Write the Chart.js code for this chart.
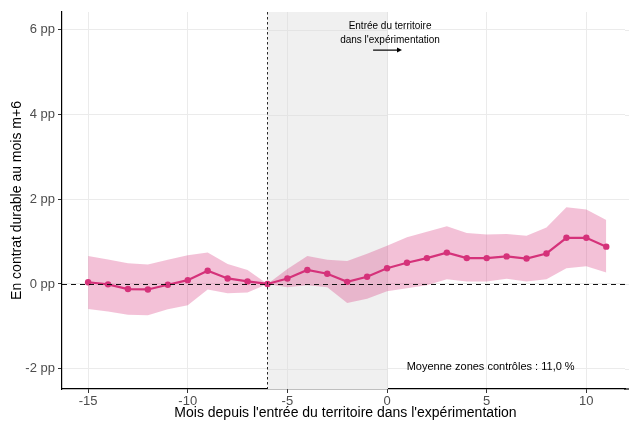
<!DOCTYPE html>
<html><head><meta charset="utf-8">
<script src="https://cdn.jsdelivr.net/npm/chart.js@4/dist/chart.umd.min.js"></script>
<style>html,body{margin:0;padding:0;background:#fff}#wrap{width:629px;height:421px}</style>
</head><body><div id="wrap"><canvas id="c" width="629" height="421"></canvas></div>
<script>
const months = [-15,-14,-13,-12,-11,-10,-9,-8,-7,-6,-5,-4,-3,-2,-1,0,1,2,3,4,5,6,7,8,9,10,11];
const estimate = [0.04,-0.01,-0.12,-0.13,-0.02,0.09,0.31,0.13,0.06,0,0.13,0.33,0.24,0.05,0.17,0.37,0.50,0.61,0.74,0.61,0.61,0.65,0.60,0.72,1.09,1.09,0.88];
const upper = [0.66,0.58,0.49,0.46,0.57,0.68,0.74,0.47,0.33,0,0.35,0.66,0.57,0.54,0.71,0.90,1.10,1.23,1.36,1.20,1.17,1.18,1.14,1.33,1.81,1.76,1.51];
const lower = [-0.59,-0.65,-0.73,-0.74,-0.60,-0.50,-0.13,-0.22,-0.20,0,-0.08,-0.03,-0.08,-0.45,-0.35,-0.17,-0.10,-0.03,0.11,0.06,0.06,0.12,0.06,0.11,0.37,0.42,0.27];
const xTicks = [-15,-10,-5,0,5,10];
const yTicks = [-2,0,2,4,6];
const entryMonth = -6;
const shadeFrom = -6, shadeTo = 0;
const noteLines = ["Entrée du territoire","dans l'expérimentation"];
const controlNote = "Moyenne zones contrôles : 11,0 %";
const xTitle = "Mois depuis l'entrée du territoire dans l'expérimentation";
const yTitle = "En contrat durable au mois m+6";

const LINE = '#d4337a';
const FONT = '"Liberation Sans", Arial, sans-serif';

const pts = a => months.map((m,i)=>({x:m,y:a[i]}));

const deco = {
  id:'deco',
  beforeDatasetsDraw(chart){
    const {ctx, chartArea:ca, scales:{x,y}} = chart;
    ctx.save();
    ctx.strokeStyle = '#ebebeb'; ctx.lineWidth = 1;
    yTicks.forEach(t=>{ const p=Math.round(y.getPixelForValue(t))+0.5; ctx.beginPath(); ctx.moveTo(ca.right,p); ctx.lineTo(chart.width,p); ctx.stroke(); });
    ctx.fillStyle = '#f0f0f0';
    const x0 = x.getPixelForValue(shadeFrom), x1 = x.getPixelForValue(shadeTo);
    ctx.fillRect(x0, ca.top, x1-x0, ca.bottom-ca.top);
    ctx.strokeStyle = '#e4e4e4';
    xTicks.forEach(t=>{ if(t>shadeFrom && t<=shadeTo){ const p=Math.round(x.getPixelForValue(t))+0.5; ctx.beginPath(); ctx.moveTo(p,ca.top); ctx.lineTo(p,ca.bottom); ctx.stroke(); }});
    yTicks.forEach(t=>{ const p=Math.round(y.getPixelForValue(t))+0.5; ctx.beginPath(); ctx.moveTo(x0,p); ctx.lineTo(x1,p); ctx.stroke(); });
    ctx.restore();
  },
  afterDatasetDraw(chart,args){
    if(args.index!==1) return;
    const {ctx, chartArea:ca, scales:{x,y}} = chart;
    ctx.save();
    ctx.strokeStyle = '#111';
    ctx.lineWidth = 1.1;
    ctx.setLineDash([5,4]);
    const py = Math.round(y.getPixelForValue(0))+0.5;
    ctx.beginPath(); ctx.moveTo(ca.left,py); ctx.lineTo(chart.width-2,py); ctx.stroke();
    ctx.lineWidth = 0.9;
    ctx.setLineDash([2.5,2.5]);
    const px = Math.round(x.getPixelForValue(entryMonth))+0.5;
    ctx.beginPath(); ctx.moveTo(px,ca.top); ctx.lineTo(px,ca.bottom); ctx.stroke();
    ctx.restore();
  },
  afterDraw(chart){
    const {ctx, chartArea:ca, scales:{x,y}} = chart;
    ctx.save();
    ctx.strokeStyle = '#000'; ctx.lineWidth = 1.2;
    ctx.beginPath(); ctx.moveTo(ca.right-1, ca.bottom); ctx.lineTo(chart.width, ca.bottom); ctx.stroke();
    ctx.fillStyle = '#000';
    ctx.textAlign='center'; ctx.textBaseline='middle';
    ctx.font = '10px '+FONT;
    const cx = x.getPixelForValue(0.15);
    ctx.fillText(noteLines[0], cx, y.getPixelForValue(6.08));
    ctx.fillText(noteLines[1], cx, y.getPixelForValue(5.75));
    const ay = y.getPixelForValue(5.52);
    const ax0 = x.getPixelForValue(-0.7), ax1 = x.getPixelForValue(0.75);
    ctx.strokeStyle='#000'; ctx.lineWidth=1.2;
    ctx.beginPath(); ctx.moveTo(ax0,ay); ctx.lineTo(ax1-3,ay); ctx.stroke();
    ctx.beginPath(); ctx.moveTo(ax1,ay); ctx.lineTo(ax1-5,ay-2.5); ctx.lineTo(ax1-5,ay+2.5); ctx.closePath(); ctx.fill();
    ctx.font = '11px '+FONT;
    ctx.fillText(controlNote, x.getPixelForValue(5.2), y.getPixelForValue(-1.97));
    ctx.font = '14px '+FONT;
    ctx.fillText(xTitle, (ca.left+chart.width)/2, 413);
    ctx.translate(17,(ca.top+ca.bottom)/2);
    ctx.rotate(-Math.PI/2);
    ctx.fillText(yTitle,0,0);
    ctx.restore();
  }
};

new Chart(document.getElementById('c'),{
  type:'line',
  data:{datasets:[
    {data:pts(lower), borderWidth:0, pointRadius:0, fill:false, backgroundColor:'rgba(0,0,0,0)', borderColor:'rgba(0,0,0,0)'},
    {data:pts(upper), borderWidth:0, pointRadius:0, fill:'-1', backgroundColor:'rgba(214,51,122,0.3)', borderColor:'rgba(0,0,0,0)'},
    {data:pts(estimate), borderColor:LINE, backgroundColor:LINE, borderWidth:2.2, pointRadius:3.2, pointBorderWidth:0, pointBackgroundColor:LINE, fill:false, tension:0}
  ]},
  options:{
    responsive:false, animation:false, devicePixelRatio:1,
    layout:{padding:{top:12,right:0,left:0,bottom:0}},
    plugins:{legend:{display:false}, tooltip:{enabled:false}},
    scales:{
      x:{type:'linear', min:-16.31, max:11.94,
        afterBuildTicks(s){ s.ticks = xTicks.map(v=>({value:v})); },
        afterFit(s){ s.height = 32; },
        ticks:{color:'#4d4d4d', font:{family:FONT,size:13}, padding:1, maxRotation:0, autoSkip:false},
        grid:{color:'#ebebeb', lineWidth:1, tickLength:4, tickColor:'#333'},
        border:{display:true, color:'#000', width:1.2}
      },
      y:{type:'linear', min:-2.48, max:6.42,
        afterBuildTicks(s){ s.ticks = yTicks.map(v=>({value:v})); },
        afterFit(s){ s.width = 62; },
        ticks:{color:'#4d4d4d', font:{family:FONT,size:13}, padding:3, callback:v=>v+' pp'},
        grid:{color:'#ebebeb', lineWidth:1, tickLength:4, tickColor:'#333'},
        border:{display:true, color:'#000', width:1.2}
      }
    }
  },
  plugins:[deco]
});
</script></body></html>
